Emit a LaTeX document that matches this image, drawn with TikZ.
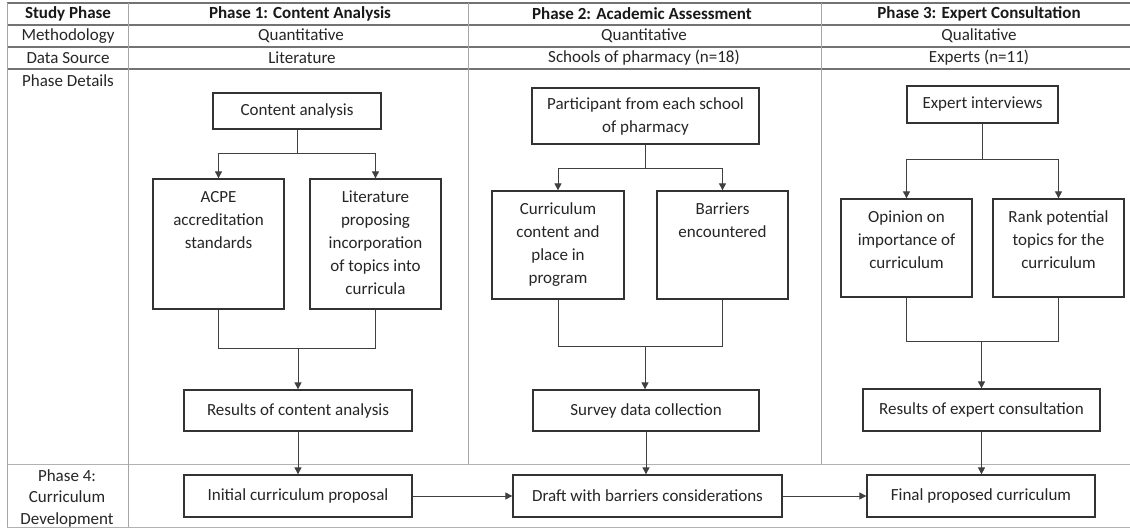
\documentclass[tikz,border=0pt]{standalone}
\usepackage{fontspec}
\setmainfont{Carlito}
\usetikzlibrary{arrows.meta}
\newcommand{\mytb}[3]{\parbox[t][#2pt][t]{#1pt}{\centering\rule{0pt}{24pt}#3}}
\begin{document}
\begin{tikzpicture}[x=1pt,y=-1pt,
  txt/.style={font=\fontsize{17}{23}\selectfont, text=black!85, inner sep=0pt},
  hdr/.style={font=\fontsize{17}{23}\selectfont\bfseries, text=black!90, inner sep=0pt},
  lbl/.style={font=\fontsize{17}{21.5}\selectfont, text=black!85, inner sep=0pt, align=center},
  box/.style={draw=black!80, line width=1.3pt, font=\fontsize{17}{23}\selectfont, text=black!85, align=center, inner sep=0pt},
  tbox/.style={draw=black!80, line width=1.3pt, font=\fontsize{17}{23}\selectfont, text=black!85, inner sep=0pt},
  hline/.style={draw=black!55, line width=1.4pt},
  vline/.style={draw=black!35, line width=1pt},
  lline/.style={draw=black!30, line width=1pt},
  conn/.style={draw=black!75, line width=1pt},
  arr/.style={conn, -{Triangle[length=7pt,width=7pt]}}]
\useasboundingbox (0,0) rectangle (1130,529);
\fill[white] (0,0) rectangle (1130,529);
% table
\draw[hline] (7,3) -- (1130,3);
\draw[hline] (7,25) -- (1130,25);
\draw[hline] (7,47) -- (1130,47);
\draw[hline] (7,69) -- (1130,69);
\draw[lline] (7,464) -- (1130,464);
\draw[lline] (7,527) -- (1130,527);
\draw[vline] (7,3) -- (7,527);
\draw[vline] (128,3) -- (128,527);
\draw[vline] (468,3) -- (468,464);
\draw[vline] (821,3) -- (821,464);
% header texts
\node[hdr] (h0) at (68,14) {Study Phase};
\node[hdr] (h1) at (300,14) {Phase 1: Content Analysis};
\node[hdr] (h2) at (642,14) {Phase 2: Academic Assessment};
\node[hdr] (h3) at (979,14) {Phase 3: Expert Consultation};
\node[txt] (m0) at (68,36) {Methodology};
\node[txt] (m1t) at (301,36) {Quantitative};
\node[txt] (m2t) at (644,36) {Quantitative};
\node[txt] (m3t) at (979,36) {Qualitative};
\node[txt] (d0) at (68,58) {Data Source};
\node[txt] (d1) at (302,58) {Literature};
\node[txt] (d2) at (644,58) {Schools of pharmacy (n=18)};
\node[txt] (d3) at (979,58) {Experts (n=11)};
\node[txt] (pd) at (68,81) {Phase Details};
\node[lbl] (p4) at (67,498) {Phase 4:\\Curriculum\\Development};
% phase 1
\node[box, minimum width=168, minimum height=36] (ca) at (297,111) {Content analysis};
\node[tbox] (acpe) at (218.5,244) {\mytb{131}{130}{ACPE\\accreditation\\standards}};
\node[tbox] (lit) at (375.5,244) {\mytb{131}{130}{Literature\\proposing\\incorporation\\of topics into\\curricula}};
\node[box, minimum width=228, minimum height=41] (res1) at (298,410.5) {Results of content analysis};
% phase 2
\node[box, minimum width=227, minimum height=56] (part) at (645.5,116) {Participant from each school\\of pharmacy};
\node[tbox] (cur) at (558,245) {\mytb{132}{108}{Curriculum\\content and\\place in\\program}};
\node[tbox] (bar) at (722.5,245) {\mytb{131}{108}{Barriers\\encountered}};
\node[box, minimum width=226, minimum height=41] (surv) at (646,410.5) {Survey data collection};
% phase 3
\node[box, minimum width=151, minimum height=37] (exp) at (982.5,104.5) {Expert interviews};
\node[tbox] (opi) at (906.5,248) {\mytb{131}{98}{Opinion on\\importance of\\curriculum}};
\node[tbox] (rank) at (1058.5,248) {\mytb{131}{98}{Rank potential\\topics for the\\curriculum}};
\node[box, minimum width=237, minimum height=42] (res3) at (981.5,410) {Results of expert consultation};
% phase 4
\node[box, minimum width=228, minimum height=42] (init) at (298,496) {Initial curriculum proposal};
\node[box, minimum width=269, minimum height=42] (draft) at (647.5,496) {Draft with barriers considerations};
\node[box, minimum width=228, minimum height=42] (final) at (981,496) {Final proposed curriculum};
% merge points
\coordinate (j1) at (298,349);
\coordinate (j2) at (645,347);
\coordinate (j3) at (981.5,342);
% connectors phase 1
\draw[arr] (ca.south) -- ++(0,24) -| (acpe.north);
\draw[arr] (ca.south) -- ++(0,24) -| (lit.north);
\draw[conn] (acpe.south) |- (j1);
\draw[conn] (lit.south) |- (j1);
\draw[arr] (j1) -- (res1.north);
% connectors phase 2
\draw[arr] (part.south) -- ++(0,24) -| (cur.north);
\draw[arr] (part.south) -- ++(0,24) -| (bar.north);
\draw[conn] (cur.south) |- (j2);
\draw[conn] (bar.south) |- (j2);
\draw[arr] (j2) -- (j2 |- surv.north);
% connectors phase 3
\draw[arr] (exp.south) -- ++(0,36) -| (opi.north);
\draw[arr] (exp.south) -- ++(0,36) -| (rank.north);
\draw[conn] (opi.south) |- (j3);
\draw[conn] (rank.south) |- (j3);
\draw[arr] (j3) -- (res3.north);
% to phase 4
\draw[arr] (res1.south) -- (init.north);
\draw[arr] (surv.south) -- (surv.south |- draft.north);
\draw[arr] (res3.south) -- (res3.south |- final.north);
\draw[arr] (init.east) -- (draft.west);
\draw[arr] (draft.east) -- (final.west);
\end{tikzpicture}
\end{document}
